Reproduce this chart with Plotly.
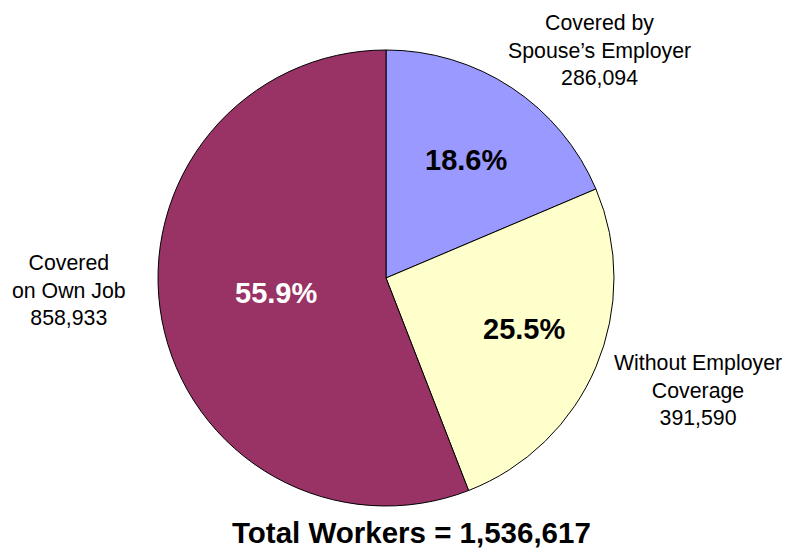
import plotly.graph_objects as go

W, H = 785, 548

# Coverage categories, clockwise from 12 o'clock
categories = ["Covered by<br>Spouse\u2019s Employer", "Without Employer<br>Coverage", "Covered<br>on Own Job"]
workers = [286094, 391590, 858933]
colors = ["#9999FF", "#FFFFCC", "#993366"]
pct_font_colors = ["black", "black", "white"]

total = sum(workers)

# Pie geometry in pixels
cx, cy, r = 386, 278, 228

def px(x):
    return x / W

def py(y):
    return 1 - y / H

fig = go.Figure(go.Pie(
    values=workers,
    labels=[c.replace("<br>", " ") for c in categories],
    sort=False,
    direction="clockwise",
    rotation=0,
    marker=dict(colors=colors, line=dict(color="black", width=1)),
    textinfo="none",
    hoverinfo="label+value+percent",
    showlegend=False,
    domain=dict(x=[px(cx - r), px(cx + r)], y=[py(cy + r), py(cy - r)]),
))

# Outside category labels (pixel centers)
label_pos = [(599, 50), (698, 390), (69, 290)]
# Percentage labels inside slices (pixel centers)
pct_pos = [(466, 160), (524, 329), (276, 293)]

font_family = "Liberation Sans, Arial, sans-serif"

for cat, val, (lx, ly), (tx, ty), fc in zip(categories, workers, label_pos, pct_pos, pct_font_colors):
    fig.add_annotation(
        x=px(lx), y=py(ly), xref="paper", yref="paper",
        text=f"{cat}<br>{val:,}", showarrow=False, align="center",
        xanchor="center", yanchor="middle",
        font=dict(family=font_family, size=21.3, color="black"),
    )
    fig.add_annotation(
        x=px(tx), y=py(ty), xref="paper", yref="paper",
        text=f"<b>{val / total * 100:.1f}%</b>", showarrow=False,
        xanchor="center", yanchor="middle",
        font=dict(family=font_family, size=29, color=fc),
    )

fig.add_annotation(
    x=px(411), y=py(532), xref="paper", yref="paper",
    text=f"<b>Total Workers = {total:,}</b>", showarrow=False,
    xanchor="center", yanchor="middle",
    font=dict(family=font_family, size=29.5, color="black"),
)

fig.update_layout(
    width=W, height=H,
    margin=dict(l=0, r=0, t=0, b=0),
    paper_bgcolor="white", plot_bgcolor="white",
)

fig.write_html("out.html")
